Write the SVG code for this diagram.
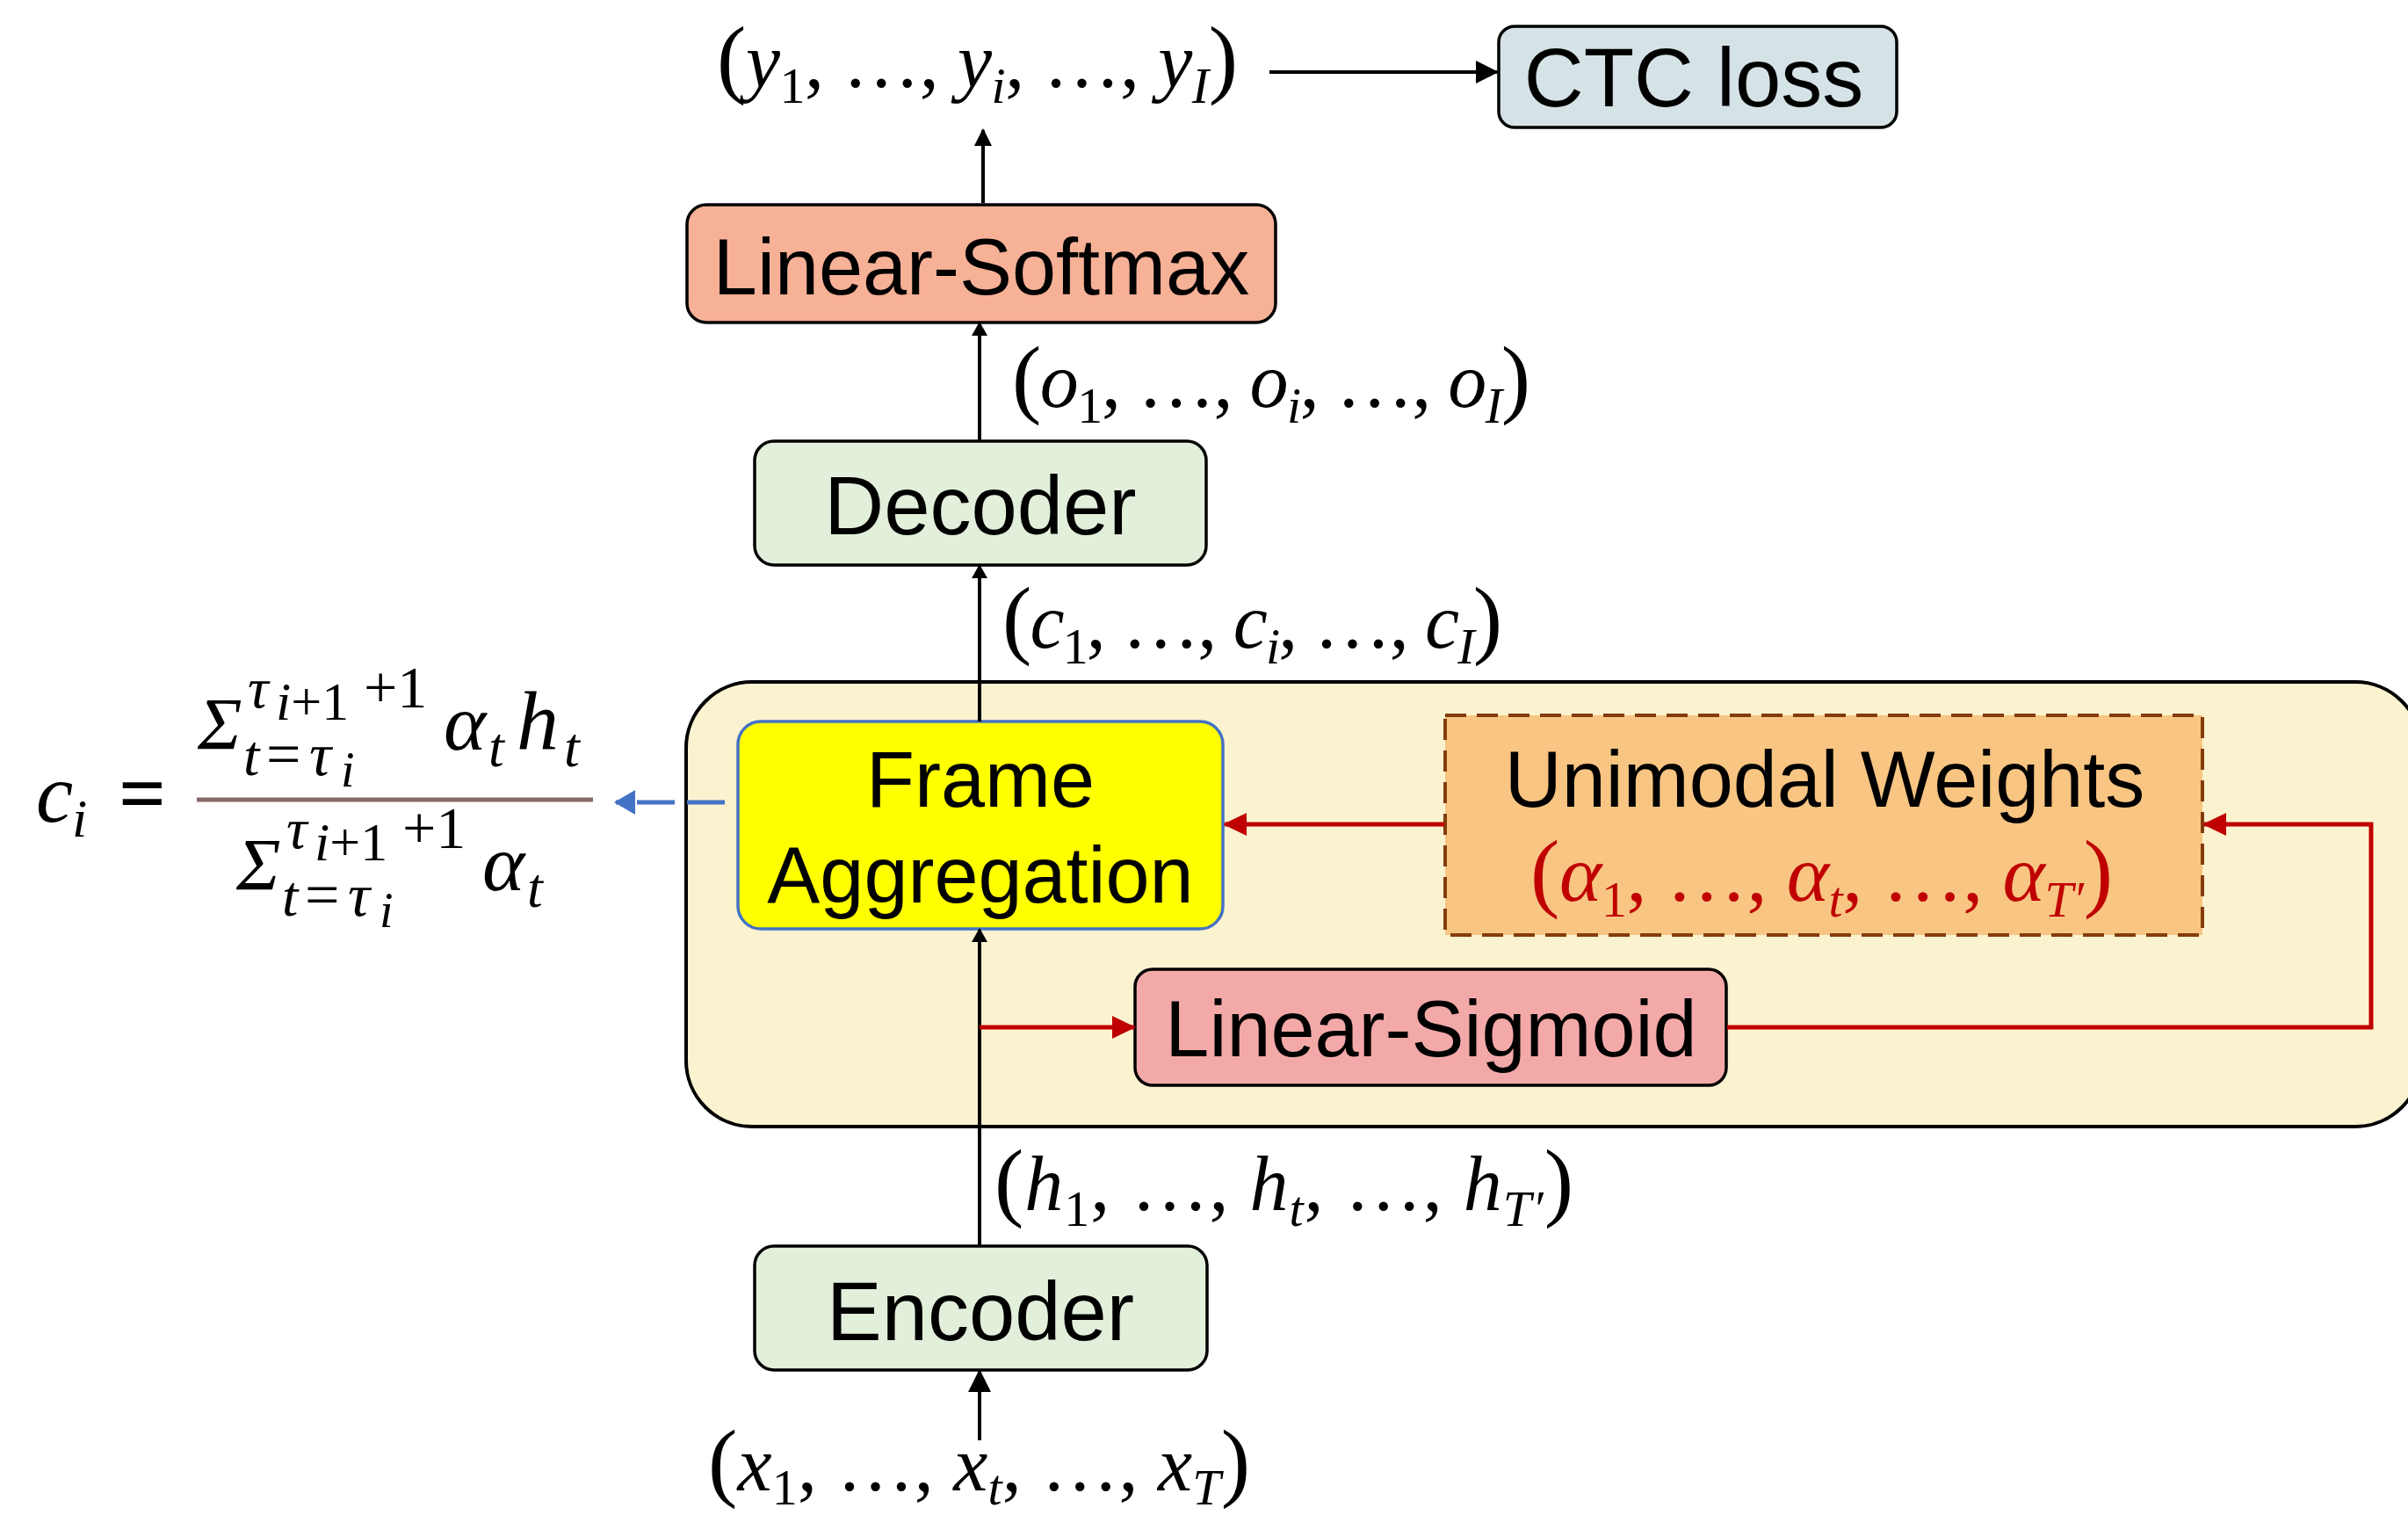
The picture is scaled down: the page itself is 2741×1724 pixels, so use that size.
<svg xmlns="http://www.w3.org/2000/svg" width="2741" height="1724" viewBox="0 0 2741 1724">
<style>
.box{stroke:#000;stroke-width:3.5}
.lbl{font-family:"Liberation Sans",Arial,sans-serif;fill:#000;text-anchor:middle}
.mth{font-family:"Liberation Serif","Times New Roman",serif;font-size:88px;fill:#000}
.par{font-size:100px;font-style:normal}
.it{font-style:italic}
.sb{font-size:58px}
.fm{font-family:"Liberation Serif","Times New Roman",serif;font-style:italic;fill:#000}
.up{font-style:normal}
.blk{stroke:#000;stroke-width:4;fill:none}
.red{stroke:#C00000;stroke-width:5;fill:none}
</style>
<defs>
<marker id="ab" markerWidth="26" markerHeight="26" refX="24" refY="13" orient="auto" markerUnits="userSpaceOnUse"><path d="M0,0 L26,13 L0,26 z" fill="#000"/></marker>
<marker id="am" markerWidth="20" markerHeight="20" refX="18" refY="10" orient="auto" markerUnits="userSpaceOnUse"><path d="M0,0 L20,10 L0,20 z" fill="#000"/></marker>
<marker id="as" markerWidth="16" markerHeight="18" refX="14" refY="9" orient="auto" markerUnits="userSpaceOnUse"><path d="M0,0 L16,9 L0,18 z" fill="#000"/></marker>
<marker id="ar" markerWidth="27" markerHeight="26" refX="25" refY="13" orient="auto" markerUnits="userSpaceOnUse"><path d="M0,0 L27,13 L0,26 z" fill="#C00000"/></marker>
<marker id="abl" markerWidth="24" markerHeight="28" refX="22" refY="14" orient="auto" markerUnits="userSpaceOnUse"><path d="M0,0 L24,14 L0,28 z" fill="#4472C4"/></marker>
</defs>

<g id="aggregation-module">
<rect x="781" y="776" width="1975" height="506" rx="75" fill="#FBF2D0" stroke="#000" stroke-width="4"/>
</g>

<g id="ctc-loss">
<rect class="box" x="1706" y="30" width="453" height="115" rx="18" fill="#D5E3E7"/>
<text class="lbl" x="1928" y="121" font-size="94">CTC loss</text>
</g>

<g id="linear-softmax">
<rect class="box" x="782" y="233" width="670" height="134" rx="22" fill="#F7B197"/>
<text class="lbl" x="1117" y="335" font-size="90">Linear-Softmax</text>
</g>

<g id="decoder">
<rect class="box" x="859" y="502" width="514" height="141" rx="22" fill="#E2EFDA"/>
<text class="lbl" x="1116" y="608" font-size="94">Decoder</text>
</g>

<g id="frame-aggregation">
<rect x="840" y="821" width="552" height="236" rx="26" fill="#FFFF00" stroke="#4472C4" stroke-width="3.5"/>
<text class="lbl" x="1116" y="918" font-size="90">Frame</text>
<text class="lbl" x="1116" y="1027" font-size="90">Aggregation</text>
</g>

<g id="unimodal-weights">
<rect x="1645" y="814" width="862" height="250" fill="#F8C583" stroke="#843C0C" stroke-width="4" stroke-dasharray="24 12"/>
<text class="lbl" x="2077" y="918" font-size="90">Unimodal Weights</text>
<text class="mth" x="1742" y="1025" style="font-size:92px;fill:#C00000" textLength="663" lengthAdjust="spacing"><tspan class="par">(</tspan><tspan class="it">α</tspan><tspan class="sb" dy="18">1</tspan><tspan dy="-18">, …, </tspan><tspan class="it">α</tspan><tspan class="sb it" dy="18">t</tspan><tspan dy="-18">, …, </tspan><tspan class="it">α</tspan><tspan class="sb it" dy="18">T′</tspan><tspan class="par" dy="-18">)</tspan></text>
</g>

<g id="linear-sigmoid">
<rect class="box" x="1292" y="1103" width="673" height="132" rx="20" fill="#F4A9A9"/>
<text class="lbl" x="1629" y="1202" font-size="90">Linear-Sigmoid</text>
</g>

<g id="encoder">
<rect class="box" x="859" y="1418" width="515" height="141" rx="22" fill="#E2EFDA"/>
<text class="lbl" x="1116" y="1525" font-size="94">Encoder</text>
</g>

<g id="labels">
<text class="mth" x="816" y="99" textLength="593" lengthAdjust="spacing"><tspan class="par">(</tspan><tspan class="it">y</tspan><tspan class="sb" dy="18">1</tspan><tspan dy="-18">, …, </tspan><tspan class="it">y</tspan><tspan class="sb it" dy="18">i</tspan><tspan dy="-18">, …, </tspan><tspan class="it">y</tspan><tspan class="sb it" dy="18">I</tspan><tspan class="par" dy="-18">)</tspan></text>
<text class="mth" x="1152" y="463" textLength="590" lengthAdjust="spacing"><tspan class="par">(</tspan><tspan class="it">o</tspan><tspan class="sb" dy="18">1</tspan><tspan dy="-18">, …, </tspan><tspan class="it">o</tspan><tspan class="sb it" dy="18">i</tspan><tspan dy="-18">, …, </tspan><tspan class="it">o</tspan><tspan class="sb it" dy="18">I</tspan><tspan class="par" dy="-18">)</tspan></text>
<text class="mth" x="1141" y="737" textLength="569" lengthAdjust="spacing"><tspan class="par">(</tspan><tspan class="it">c</tspan><tspan class="sb" dy="18">1</tspan><tspan dy="-18">, …, </tspan><tspan class="it">c</tspan><tspan class="sb it" dy="18">i</tspan><tspan dy="-18">, …, </tspan><tspan class="it">c</tspan><tspan class="sb it" dy="18">I</tspan><tspan class="par" dy="-18">)</tspan></text>
<text class="mth" x="1132" y="1377" textLength="659" lengthAdjust="spacing"><tspan class="par">(</tspan><tspan class="it">h</tspan><tspan class="sb" dy="18">1</tspan><tspan dy="-18">, …, </tspan><tspan class="it">h</tspan><tspan class="sb it" dy="18">t</tspan><tspan dy="-18">, …, </tspan><tspan class="it">h</tspan><tspan class="sb it" dy="18">T′</tspan><tspan class="par" dy="-18">)</tspan></text>
<text class="mth" x="806" y="1696" textLength="617" lengthAdjust="spacing"><tspan class="par">(</tspan><tspan class="it">x</tspan><tspan class="sb" dy="16">1</tspan><tspan dy="-16">, …, </tspan><tspan class="it">x</tspan><tspan class="sb it" dy="16">t</tspan><tspan dy="-16">, …, </tspan><tspan class="it">x</tspan><tspan class="sb it" dy="16">T</tspan><tspan class="par" dy="-16">)</tspan></text>
</g>

<g id="formula">
<text class="fm" x="41" y="935" font-size="95">c<tspan x="82" y="952" font-size="62">i</tspan></text>
<text class="fm up" x="135" y="935" font-size="95" font-weight="bold">=</text>
<line x1="224" y1="910" x2="675" y2="910" stroke="#866B66" stroke-width="5"/>
<text class="fm" x="225" y="853" font-size="85">Σ<tspan x="282" y="805" font-size="66">τ</tspan><tspan x="314" y="819" font-size="62">i</tspan><tspan class="up" font-size="62">+1</tspan><tspan class="up" x="414" y="805" font-size="68">+1</tspan><tspan x="277" y="882" font-size="66">t</tspan><tspan class="up" x="303" font-size="70">=</tspan><tspan x="352" font-size="70">τ</tspan><tspan x="388" y="895" font-size="56">i</tspan></text>
<text class="fm" x="505" y="853" font-size="92">α<tspan x="556" y="872" font-size="64">t</tspan><tspan x="588" y="853" font-size="96">h</tspan><tspan x="642" y="872" font-size="64">t</tspan></text>
<text class="fm" x="269" y="1013" font-size="85">Σ<tspan x="326" y="965" font-size="66">τ</tspan><tspan x="358" y="979" font-size="62">i</tspan><tspan class="up" font-size="62">+1</tspan><tspan class="up" x="458" y="965" font-size="68">+1</tspan><tspan x="321" y="1042" font-size="66">t</tspan><tspan class="up" x="347" font-size="70">=</tspan><tspan x="396" font-size="70">τ</tspan><tspan x="432" y="1055" font-size="56">i</tspan></text>
<text class="fm" x="549" y="1013" font-size="92">α<tspan x="600" y="1032" font-size="64">t</tspan></text>
</g>

<g id="connectors">
<line class="blk" x1="1445" y1="82" x2="1704" y2="82" marker-end="url(#ab)"/>
<line class="blk" x1="1119" y1="231" x2="1119" y2="148" marker-end="url(#am)"/>
<line class="blk" x1="1115" y1="502" x2="1115" y2="368" marker-end="url(#as)"/>
<line class="blk" x1="1115" y1="821" x2="1115" y2="644" marker-end="url(#as)"/>
<line class="blk" x1="1115" y1="1418" x2="1115" y2="1058" marker-end="url(#as)"/>
<line class="blk" x1="1115" y1="1639" x2="1115" y2="1560" marker-end="url(#ab)"/>
<line class="red" x1="1115" y1="1169" x2="1291" y2="1169" marker-end="url(#ar)"/>
<line class="red" x1="1644" y1="938" x2="1394" y2="938" marker-end="url(#ar)"/>
<polyline class="red" points="1966,1169 2699,1169 2699,938 2509,938" marker-end="url(#ar)"/>
<line x1="825" y1="913" x2="701" y2="913" stroke="#4472C4" stroke-width="5" stroke-dasharray="43 14" marker-end="url(#abl)"/>
</g>
</svg>
